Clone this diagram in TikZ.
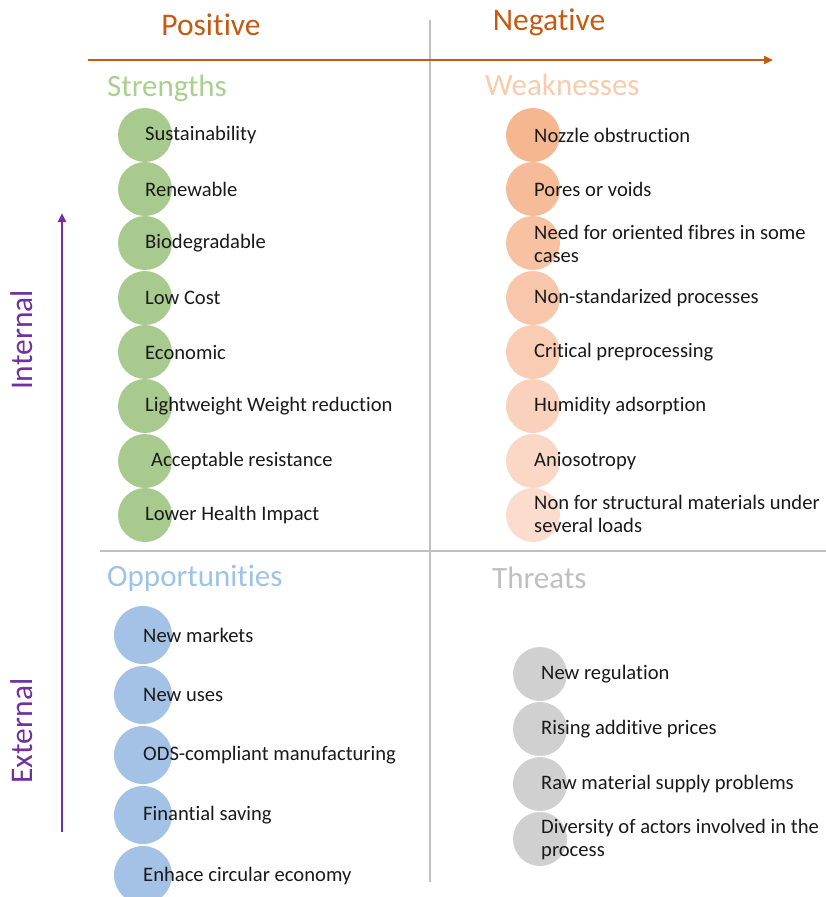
\documentclass[tikz,border=0pt]{standalone}
\usepackage{fontspec}
\setmainfont[Ligatures=NoCommon]{Carlito}
\usetikzlibrary{arrows.meta}
\definecolor{axorange}{HTML}{C55A11}
\definecolor{axpurple}{HTML}{7030A0}
\definecolor{sgreen}{HTML}{A9CA8F}
\definecolor{sgreentxt}{HTML}{A9D08E}
\definecolor{wtop}{HTML}{F5B690}
\definecolor{wbot}{HTML}{FCDCCE}
\definecolor{wtxt}{HTML}{F8CBAD}
\definecolor{oblue}{HTML}{A3C2E5}
\definecolor{obluetxt}{HTML}{9DC3E6}
\definecolor{tgray}{HTML}{D0D0D0}
\definecolor{tgraytxt}{HTML}{BFBFBF}
\definecolor{divgray}{HTML}{C0C0C0}
\definecolor{itemtxt}{HTML}{1A1A1A}
\tikzset{
  dot/.style={circle, inner sep=0pt, minimum size=#1, draw=none},
  item/.style={anchor=west, inner sep=0pt, text=itemtxt, align=left,
    font=\fontsize{20.6}{23}\selectfont},
  axislabel/.style={font=\fontsize{31.5}{36}\selectfont},
  quadtitle/.style={anchor=west, inner sep=0pt, font=\fontsize{31}{36}\selectfont},
  divider/.style={draw=divgray, line width=2.2pt},
}
\begin{document}
\begin{tikzpicture}[x=1pt,y=-1pt]
\useasboundingbox (0,0) rectangle (826,897);
% axes labels
\node[axislabel, text=axorange] (pos) at (211,25) {Positive};
\node[axislabel, text=axorange] (neg) at (549,22) {Negative};
\node[axislabel, text=axpurple, rotate=90] (int) at (22,340) {Internal};
\node[axislabel, text=axpurple, rotate=90] (ext) at (22,731) {External};
% dividers
\coordinate (vtop) at (430,20);
\coordinate (vbot) at (430,882);
\coordinate (hleft) at (100,551);
\coordinate (hright) at (826,551);
\draw[divider] (vtop) -- (vbot);
\draw[divider] (hleft) -- (hright);
% arrows
\coordinate (oa) at (88,60);
\coordinate (ob) at (773,60);
\draw[axorange, line width=2.7pt, -{Triangle[length=9pt,width=8pt]}] (oa) -- (ob);
\coordinate (pa) at (62,832);
\coordinate (pb) at (62,213);
\draw[axpurple, line width=2.7pt, -{Triangle[length=9pt,width=8pt]}] (pa) -- (pb);
% quadrant titles
\node[quadtitle, text=sgreentxt] (tS) at (107,88) {Strengths};
\node[quadtitle, text=wtxt] (tW) at (485,85) {Weaknesses};
\node[quadtitle, text=obluetxt] (tO) at (107,578) {Opportunities};
\node[quadtitle, text=tgraytxt] (tT) at (492,578) {Threats};
% Strengths
\foreach \i/\y in {1/135,2/189,3/243,4/298,5/352,6/406,7/461,8/515}{
  \node[dot=54pt, fill=sgreen] (s\i) at (145,\y) {};
}
\node[item] (st1) at (145,135) {Sustainability};
\node[item] (st2) at (145,189) {Renewable};
\node[item] (st3) at (145,243) {Biodegradable};
\node[item] (st4) at (145,298) {Low Cost};
\node[item] (st5) at (145,352) {Economic};
\node[item] (st6) at (145,406) {Lightweight Weight reduction};
\node[item] (st7) at (151,461) {Acceptable resistance};
\node[item] (st8) at (145,515) {Lower Health Impact};
% Weaknesses
\foreach \i/\y/\p in {1/135/100,2/189/86,3/243/71,4/298/57,5/352/43,6/406/29,7/461/14,8/515/0}{
  \node[dot=54pt, fill=wtop!\p!wbot] (w\i) at (533,\y) {};
}
\node[item] (wt1) at (534,135) {Nozzle obstruction};
\node[item] (wt2) at (534,189) {Pores or voids};
\node[item] (wt3) at (534,244) {Need for oriented fibres in some\\cases};
\node[item] (wt4) at (534,298) {Non-standarized processes};
\node[item] (wt5) at (534,352) {Critical preprocessing};
\node[item] (wt6) at (534,406) {Humidity adsorption};
\node[item] (wt7) at (534,461) {Aniosotropy};
\node[item] (wt8) at (534,514) {Non for structural materials under\\several loads};
% Opportunities
\foreach \i/\y in {1/635,2/695,3/755,4/815,5/875}{
  \node[dot=58pt, fill=oblue] (o\i) at (143,\y) {};
}
\node[item] (ot1) at (143,635) {New markets};
\node[item] (ot2) at (143,695) {New uses};
\node[item] (ot3) at (143,755) {ODS-compliant manufacturing};
\node[item] (ot4) at (143,815) {Finantial saving};
\node[item] (ot5) at (143,876) {Enhace circular economy};
% Threats
\foreach \i/\y in {1/674,2/729,3/784,4/839}{
  \node[dot=54pt, fill=tgray] (t\i) at (540,\y) {};
}
\node[item] (tt1) at (541,674) {New regulation};
\node[item] (tt2) at (541,729) {Rising additive prices};
\node[item] (tt3) at (541,784) {Raw material supply problems};
\node[item] (tt4) at (541,839) {Diversity of actors involved in the\\process};
\end{tikzpicture}
\end{document}
